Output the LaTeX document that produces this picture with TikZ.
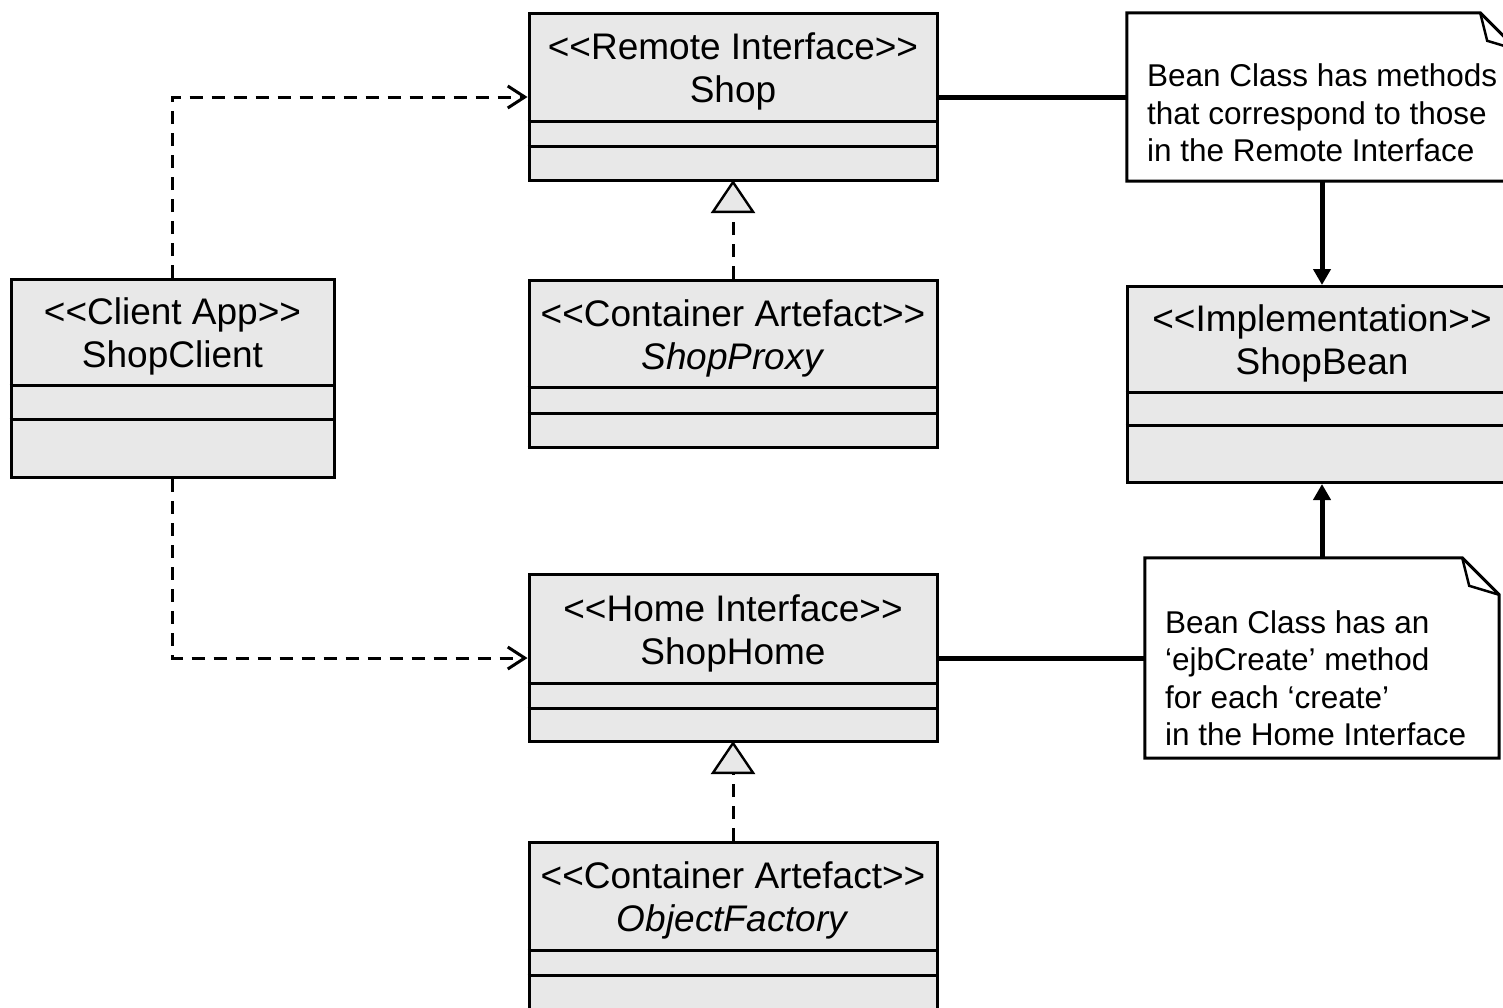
\documentclass[tikz,border=0pt]{standalone}
\usepackage{fontspec}
\setmainfont{Liberation Sans}
\usetikzlibrary{arrows.meta}
\definecolor{boxfill}{HTML}{E8E8E8}

% guillemet-style stereotype brackets, kept as two separate characters
\newcommand\stereo[1]{<\kern0pt<#1>\kern0pt>}

% UML class: name, centre x, top y, width, height, 1st divider, 2nd divider, stereotype, title
\newcommand\umlclass[9]{%
  \node[classbox, minimum width=#4pt, minimum height=#5pt, anchor=north] (#1) at (#2,#3) {};
  \draw[divider] ([yshift=-#6pt]#1.north west) -- ([yshift=-#6pt]#1.north east);
  \draw[divider] ([yshift=-#7pt]#1.north west) -- ([yshift=-#7pt]#1.north east);
  \node[classtext] (#1-title) at ([yshift=-0.5*#6pt-5pt]#1.north) {\stereo{#8}\\#9};
}

% UML note with a folded corner: name, centre x, centre y, width, height
\newcommand\umlnote[5]{%
  \node[notebody, minimum width=#4pt, minimum height=#5pt] (#1) at (#2,#3) {};
  \draw[noteline] (#1.north west) -- ([xshift=-37pt]#1.north east)
    -- ([yshift=-37pt]#1.north east) -- (#1.south east) -- (#1.south west) -- cycle;
  \draw[foldline] ([xshift=-37pt]#1.north east) -- ([xshift=-30pt,yshift=-28pt]#1.north east)
    -- ([yshift=-37pt]#1.north east);
}

\begin{document}
\begin{tikzpicture}[x=1pt,y=-1pt,
  classbox/.style={draw, line width=3pt, fill=boxfill, inner sep=0pt},
  divider/.style={line width=3pt},
  classtext/.style={font=\fontsize{37}{43}\selectfont, align=center, inner sep=0pt},
  notebody/.style={inner sep=0pt},
  noteline/.style={line width=3pt, line join=miter, fill=white},
  foldline/.style={line width=2.5pt, line join=miter},
  notetext/.style={font=\fontsize{31.5}{37.5}\selectfont, align=left, inner sep=0pt, anchor=west},
  link/.style={line width=5pt},
  linkarrow/.style={line width=5pt, -{Triangle[length=16pt,width=17pt]}},
  depend/.style={line width=3pt, dash pattern=on 13pt off 9pt,
    -{Straight Barb[length=17pt,width=22pt,line width=3pt]}},
  realize/.style={line width=3pt, dash pattern=on 13pt off 9pt, shorten >=-2pt,
    -{Triangle[length=33pt,width=44pt,line width=2.4pt,fill=boxfill]}},
]
\useasboundingbox (0,0) rectangle (1503,1007);

% classes
\umlclass{shop}{733}{12}{408}{167}{109}{134}{Remote Interface}{Shop}
\umlclass{shopproxy}{733}{279}{408}{167}{108}{134}{Container Artefact}{\textit{ShopProxy}}
\umlclass{shopclient}{172.5}{278}{323}{198}{107}{141}{Client App}{ShopClient}
\umlclass{shopbean}{1322}{285}{390}{196}{107}{140}{Implementation}{ShopBean}
\umlclass{shophome}{733}{573}{408}{167}{110}{135}{Home Interface}{ShopHome}
\umlclass{objectfactory}{733}{841}{408}{190}{109}{134}{Container Artefact}{\textit{ObjectFactory}}

% notes
\umlnote{note1}{1322}{97}{390}{168}
\node[notetext] (note1-text) at ([xshift=20pt,yshift=-16pt]note1.west)
  {Bean Class has methods\\that correspond to those\\in the Remote Interface};
\umlnote{note2}{1322}{658}{354}{200}
\node[notetext] (note2-text) at ([xshift=20pt,yshift=-20pt]note2.west)
  {Bean Class has an\\‘ejbCreate’ method\\for each ‘create’\\in the Home Interface};

% dependencies of the client
\draw[depend] (shopclient.north) |- (shop.west);
\draw[depend] (shopclient.south) |- (shophome.west);

% realizations by container artefacts
\draw[realize] (shopproxy.north) -- (shop.south);
\draw[realize] (objectfactory.north) -- (shophome.south);

% note attachments
\draw[link] (shop.east) -- (note1.west);
\draw[link] (shophome.east) -- (note2.west);
\draw[linkarrow] (note1.south) -- (shopbean.north);
\draw[linkarrow] (note2.north) -- (shopbean.south);
\end{tikzpicture}
\end{document}
